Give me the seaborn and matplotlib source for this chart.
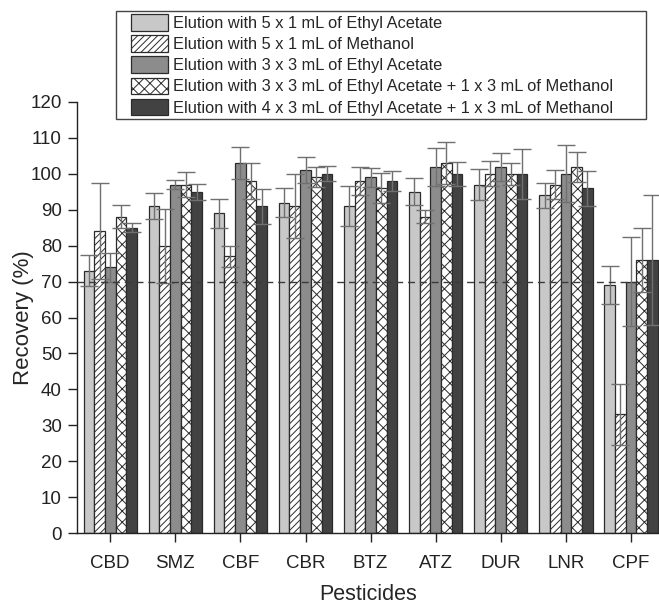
import pandas as pd
import matplotlib
matplotlib.use("Agg")
import matplotlib.pyplot as plt
import matplotlib.patches as mpatches
from matplotlib.legend_handler import HandlerPatch
import seaborn as sns

pesticides = ["CBD", "SMZ", "CBF", "CBR", "BTZ", "ATZ", "DUR", "LNR", "CPF"]
methods = [
    "Elution with 5 x 1 mL of Ethyl Acetate",
    "Elution with 5 x 1 mL of Methanol",
    "Elution with 3 x 3 mL of Ethyl Acetate",
    "Elution with 3 x 3 mL of Ethyl Acetate + 1 x 3 mL of Methanol",
    "Elution with 4 x 3 mL of Ethyl Acetate + 1 x 3 mL of Methanol",
]

ea_5x1 = [73, 91, 89, 92, 91, 95, 97, 94, 69]
ea_5x1_sd = [4.3, 3.6, 4.0, 4.1, 5.5, 3.8, 4.3, 3.5, 5.3]
meoh_5x1 = [84, 80, 77, 91, 98, 88, 100, 97, 33]
meoh_5x1_sd = [13.4, 10.3, 3.0, 8.9, 4.0, 1.8, 3.5, 4.0, 8.4]
ea_3x3 = [74, 97, 103, 101, 99, 102, 102, 100, 70]
ea_3x3_sd = [4.0, 1.2, 4.4, 3.6, 2.7, 5.3, 3.9, 7.9, 12.3]
ea_meoh_3x3 = [88, 97, 98, 99, 96, 103, 100, 102, 76]
ea_meoh_3x3_sd = [3.2, 3.4, 5.1, 2.8, 4.2, 5.8, 3.1, 4.2, 8.8]
ea_meoh_4x3 = [85, 95, 91, 100, 98, 100, 100, 96, 76]
ea_meoh_4x3_sd = [1.3, 2.2, 4.9, 2.1, 2.7, 3.3, 7.0, 4.9, 18.2]

means = [ea_5x1, meoh_5x1, ea_3x3, ea_meoh_3x3, ea_meoh_4x3]
sds = [ea_5x1_sd, meoh_5x1_sd, ea_3x3_sd, ea_meoh_3x3_sd, ea_meoh_4x3_sd]

rows = []
for m, vals in zip(methods, means):
    for p, v in zip(pesticides, vals):
        rows.append({"Pesticide": p, "Method": m, "Recovery": v})
df = pd.DataFrame(rows)

COLORS = ["#c8c8c8", "white", "#8c8c8c", "white", "#424242"]
HATCHES = ["", "/////", "", "xxx", ""]
EDGE = "#2b2b2b"

sns.set_style("ticks")
plt.rcParams["font.family"] = ["Liberation Sans", "DejaVu Sans"]
plt.rcParams["hatch.linewidth"] = 0.7
plt.rcParams["hatch.color"] = "#333333"

fig = plt.figure(figsize=(6.59, 6.06), dpi=100)
ax = fig.add_axes([77 / 659, 73 / 606, 1 - 77 / 659, 431 / 606])

sns.barplot(
    data=df, x="Pesticide", y="Recovery", hue="Method",
    palette=COLORS, width=0.82, errorbar=None,
    edgecolor=EDGE, linewidth=0.9, legend=False, ax=ax,
)

# error bars drawn by hand from the SD lists (seaborn can't take precomputed ones)
bar_groups = list(ax.containers)
for i, container in enumerate(bar_groups):
    for j, bar in enumerate(container.patches):
        bar.set_hatch(HATCHES[i])
        bar.set_edgecolor(EDGE)
        xc = bar.get_x() + bar.get_width() / 2
        ax.errorbar(xc, means[i][j], yerr=sds[i][j], fmt="none",
                    ecolor="#707070", elinewidth=1, capsize=6.5, capthick=1, zorder=5)

ax.axhline(70, ls="--", color="#3a3a3a", lw=1, dashes=(5, 3.5), zorder=6)

ax.set_ylim(0, 120)
ax.set_xlim(-0.51, 8.43)
ax.set_yticks(range(0, 121, 10))
sns.despine(ax=ax)
for s in ["left", "bottom"]:
    ax.spines[s].set_color("#222222")
    ax.spines[s].set_linewidth(1)
ax.tick_params(axis="both", direction="out", length=6.5, width=1, colors="#222222", labelsize=13.5)
ax.tick_params(axis="x", pad=9)
ax.tick_params(axis="y", pad=4.5)

ax.set_ylabel("Recovery (%)", fontsize=16)
ax.set_xlabel("Pesticides", fontsize=15.5)
ax.yaxis.set_label_coords(-0.074, 0.5)
ax.xaxis.set_label_coords(0.5, -0.118)

handles = [mpatches.Patch(facecolor=c, edgecolor=EDGE, hatch=h, linewidth=0.9, label=m)
           for c, h, m in zip(COLORS, HATCHES, methods)]
leg = fig.legend(
    handles=handles, loc="upper left",
    bbox_to_anchor=(116 / 659, 1 - 10.7 / 606, 530 / 659, 0), mode="expand",
    handler_map={mpatches.Patch: HandlerPatch(xpad=0.67)},
    fontsize=11.8, frameon=True, fancybox=False, framealpha=1, edgecolor="#444444",
    handlelength=2.93, handleheight=1.18, labelspacing=0.26, borderpad=0.22,
    handletextpad=0.3, borderaxespad=0,
)
leg.get_frame().set_linewidth(1)

fig.savefig("out.png", dpi=100)
